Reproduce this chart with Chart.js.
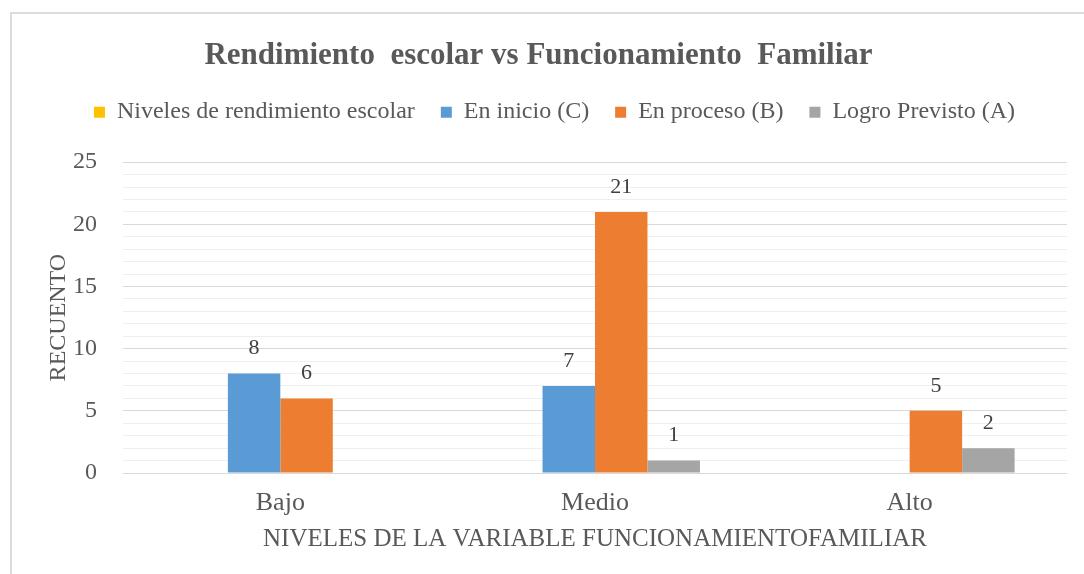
<!DOCTYPE html>
<html>
<head>
<meta charset="utf-8">
<script src="https://cdn.jsdelivr.net/npm/chart.js@4"></script>
<style>
  html, body { margin: 0; padding: 0; background: #fff; }
  #frame { position: absolute; left: 10px; top: 12px; width: 1100px; height: 600px; border: 2px solid #DCDCDC; box-sizing: border-box; }
  #wrap { position: absolute; left: 0; top: 0; width: 1084px; height: 574px; }
</style>
</head>
<body>
<div id="frame"></div>
<div id="wrap"><canvas id="c" width="1084" height="574"></canvas></div>
<script>
const categories = ['Bajo', 'Medio', 'Alto'];
const seriesNames = ['Niveles de rendimiento escolar', 'En inicio (C)', 'En proceso (B)', 'Logro Previsto (A)'];
const nivelesValues = [null, null, null];
const enInicioValues = [8, 7, null];
const enProcesoValues = [6, 21, 5];
const logroValues = [null, 1, 2];
const seriesColors = ['#FFC000', '#5B9BD5', '#ED7D31', '#A5A5A5'];
const chartTitle = 'Rendimiento  escolar vs Funcionamiento  Familiar';
const yTitle = 'RECUENTO';
const xTitle = 'NIVELES DE LA VARIABLE FUNCIONAMIENTOFAMILIAR';

const serif = "'Liberation Serif', 'Times New Roman', serif";
const textColor = '#595959';

const valueLabels = {
  id: 'valueLabels',
  afterDatasetsDraw(chart) {
    const ctx = chart.ctx;
    ctx.save();
    ctx.font = '22px ' + serif;
    ctx.fillStyle = '#404040';
    ctx.textAlign = 'center';
    ctx.textBaseline = 'middle';
    chart.data.datasets.forEach((ds, i) => {
      const meta = chart.getDatasetMeta(i);
      meta.data.forEach((el, j) => {
        const v = ds.data[j];
        if (v === null || v === undefined) return;
        ctx.fillText(String(v), el.x, el.y - 25);
      });
    });
    ctx.restore();
  }
};

// extra space below the legend row and a slight right offset, as in the reference
const legendGap = {
  id: 'legendGap',
  beforeLayout(chart) {
    const lg = chart.legend;
    if (lg && !lg._gapPatched) {
      const orig = lg.fit;
      lg.fit = function () { orig.call(this); this.height += 28; };
      lg._gapPatched = true;
    }
  },
  afterLayout(chart) {
    const lg = chart.legend;
    if (lg) { lg.left += 16; lg.right += 16; }
  }
};

const allValues = [nivelesValues, enInicioValues, enProcesoValues, logroValues];

new Chart(document.getElementById('c'), {
  type: 'bar',
  data: {
    labels: categories,
    datasets: seriesNames.map((name, i) => ({
      label: name,
      data: allValues[i],
      backgroundColor: seriesColors[i],
      borderWidth: 0,
      barPercentage: 1,
      categoryPercentage: 0.667
    }))
  },
  options: {
    responsive: false,
    animation: false,
    layout: { padding: { left: 10, right: 17, top: 14, bottom: 0 } },
    plugins: {
      title: {
        display: true,
        text: chartTitle,
        color: textColor,
        font: { family: serif, size: 31, weight: 'bold' },
        padding: { top: 23, bottom: 0 }
      },
      legend: {
        display: true,
        labels: {
          color: textColor,
          font: { family: serif, size: 24 },
          boxWidth: 11,
          boxHeight: 11,
          padding: 26
        }
      },
      tooltip: { enabled: false }
    },
    scales: {
      x: {
        grid: { display: false, drawTicks: false },
        border: { display: false },
        ticks: { color: textColor, font: { family: serif, size: 26 }, padding: 15 },
        title: { display: true, text: xTitle, color: textColor, font: { family: serif, size: 25 }, padding: { top: 0, bottom: 20 } },
        afterFit(scale) { scale.height = 101; }
      },
      y: {
        min: 0, max: 25,
        grid: {
          drawTicks: false,
          color: (c) => (c.tick && c.tick.value % 5 === 0) ? '#D9D9D9' : '#EFEFEF',
          lineWidth: 1
        },
        border: { display: false },
        ticks: {
          stepSize: 1,
          autoSkip: false,
          color: textColor,
          font: { family: serif, size: 24 },
          padding: 26,
          callback: (v) => (v % 5 === 0 ? String(v) : '')
        },
        title: { display: true, text: yTitle, color: textColor, font: { family: serif, size: 24 }, padding: { top: 34, bottom: 0 } },
        afterFit(scale) { scale.width = 113; }
      }
    }
  },
  plugins: [valueLabels, legendGap]
});
</script>
</body>
</html>
